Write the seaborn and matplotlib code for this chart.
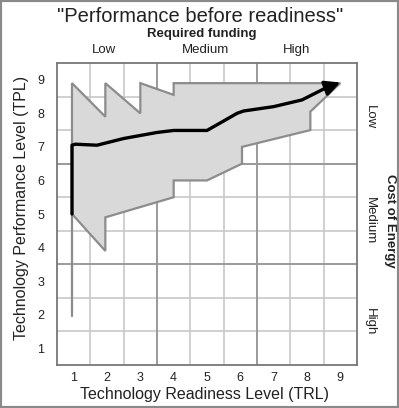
import pandas as pd
import matplotlib.pyplot as plt
import seaborn as sns

# Main development path (TRL, TPL)
path_trl = [0.95, 0.95, 1.05, 1.7, 2.5, 3.5, 4.0, 5.0, 5.55, 5.9, 6.1, 7.0, 7.85, 8.35, 8.55]
path_tpl = [5.0, 7.05, 7.08, 7.05, 7.25, 7.43, 7.49, 7.49, 7.8, 8.0, 8.07, 8.2, 8.4, 8.65, 8.75]
arrow_tip = (9.0, 8.92)

# Shaded envelope
band_trl = [0.95, 1.95, 1.95, 3.0, 3.0, 4.0, 4.0, 9.0, 8.1, 8.1, 6.05, 6.05, 5.0, 4.0, 4.0, 1.95, 1.95, 0.95]
band_tpl = [8.9, 7.9, 8.9, 8.0, 8.9, 8.55, 8.9, 8.9, 8.05, 7.5, 7.0, 6.5, 6.0, 6.0, 5.5, 4.9, 3.9, 5.0]

# Lower stem
stem_trl = [0.95, 0.95]
stem_tpl = [5.0, 1.95]

levels = [1, 2, 3, 4, 5, 6, 7, 8, 9]
funding_labels = ['Low', 'Medium', 'High']
funding_pos = [1.9, 4.95, 7.7]
cost_labels = ['Low', 'Medium', 'High']
cost_pos = [7.9, 4.8, 1.8]

sns.set_style('white')
plt.rcParams['font.family'] = ['Liberation Sans', 'DejaVu Sans']

W, H = 399, 408
fig = plt.figure(figsize=(W / 100, H / 100), dpi=100)
ax = fig.add_axes([57 / W, 1 - 365 / H, 300 / W, 302 / H])

# grid
for g in [1.5, 2.5, 4.5, 5.5, 7.5, 8.5]:
    ax.axvline(g, color='#c8c8c8', lw=1.2, zorder=0)
    ax.axhline(g, color='#c8c8c8', lw=1.2, zorder=0)
for g in [3.5, 6.5]:
    ax.axvline(g, color='#9a9a9a', lw=1.4, zorder=0)
    ax.axhline(g, color='#9a9a9a', lw=1.4, zorder=0)

ax.fill(band_trl, band_tpl, facecolor='#d9d9d9', edgecolor='#8c8c8c', lw=1.6, zorder=1)
ax.plot(stem_trl, stem_tpl, color='#8c8c8c', lw=1.6, zorder=1)

df = pd.DataFrame({'TRL': path_trl, 'TPL': path_tpl})
sns.lineplot(x='TRL', y='TPL', data=df, sort=False, estimator=None, color='black', lw=2.4, ax=ax, zorder=3)
ax.annotate('', xy=arrow_tip, xytext=(path_trl[-1], path_tpl[-1]),
            arrowprops=dict(arrowstyle='-|>,head_length=0.9,head_width=0.45', color='black', lw=2.4,
                            shrinkA=0, shrinkB=0), zorder=4)

ax.set_xlim(0.5, 9.5)
ax.set_ylim(0.5, 9.5)
ax.set_xticks(levels)
ax.set_yticks(levels)
ax.tick_params(length=0, labelsize=9, colors='#222222', pad=5)
ax.tick_params(axis='y', pad=9)
ax.set_xlabel('')
ax.set_ylabel('')
for s in ax.spines.values():
    s.set_color('#777777')
    s.set_linewidth(1.3)

fig.text(22 / W, 1 - 208 / H, 'Technology Performance Level (TPL)', rotation=90,
         ha='center', va='center', fontsize=11.5, color='#222222')
fig.text(205 / W, 1 - 394 / H, 'Technology Readiness Level (TRL)',
         ha='center', va='center', fontsize=11.5, color='#222222')
fig.text(200 / W, 1 - 16 / H, '"Performance before readiness"',
         ha='center', va='center', fontsize=14.5, color='#222222')
fig.text(202 / W, 1 - 34 / H, 'Required funding', ha='center', va='center',
         fontsize=9.5, fontweight='bold', color='#222222')

for lab, x in zip(funding_labels, funding_pos):
    ax.text(x, 9.88, lab, ha='center', va='center', fontsize=9.5, color='#222222', clip_on=False)
for lab, y in zip(cost_labels, cost_pos):
    ax.text(9.9, y, lab, rotation=-90, ha='center', va='center', fontsize=9.5, color='#222222', clip_on=False)
ax.text(10.5, 4.8, 'Cost of Energy', rotation=-90, ha='center', va='center',
        fontsize=9.5, fontweight='bold', color='#222222', clip_on=False)

fig.patches.append(plt.Rectangle((0, 0), 1, 1, transform=fig.transFigure, fill=False,
                                 edgecolor='#8a8a8a', lw=3, zorder=10))

fig.savefig('out.png', dpi=100)
